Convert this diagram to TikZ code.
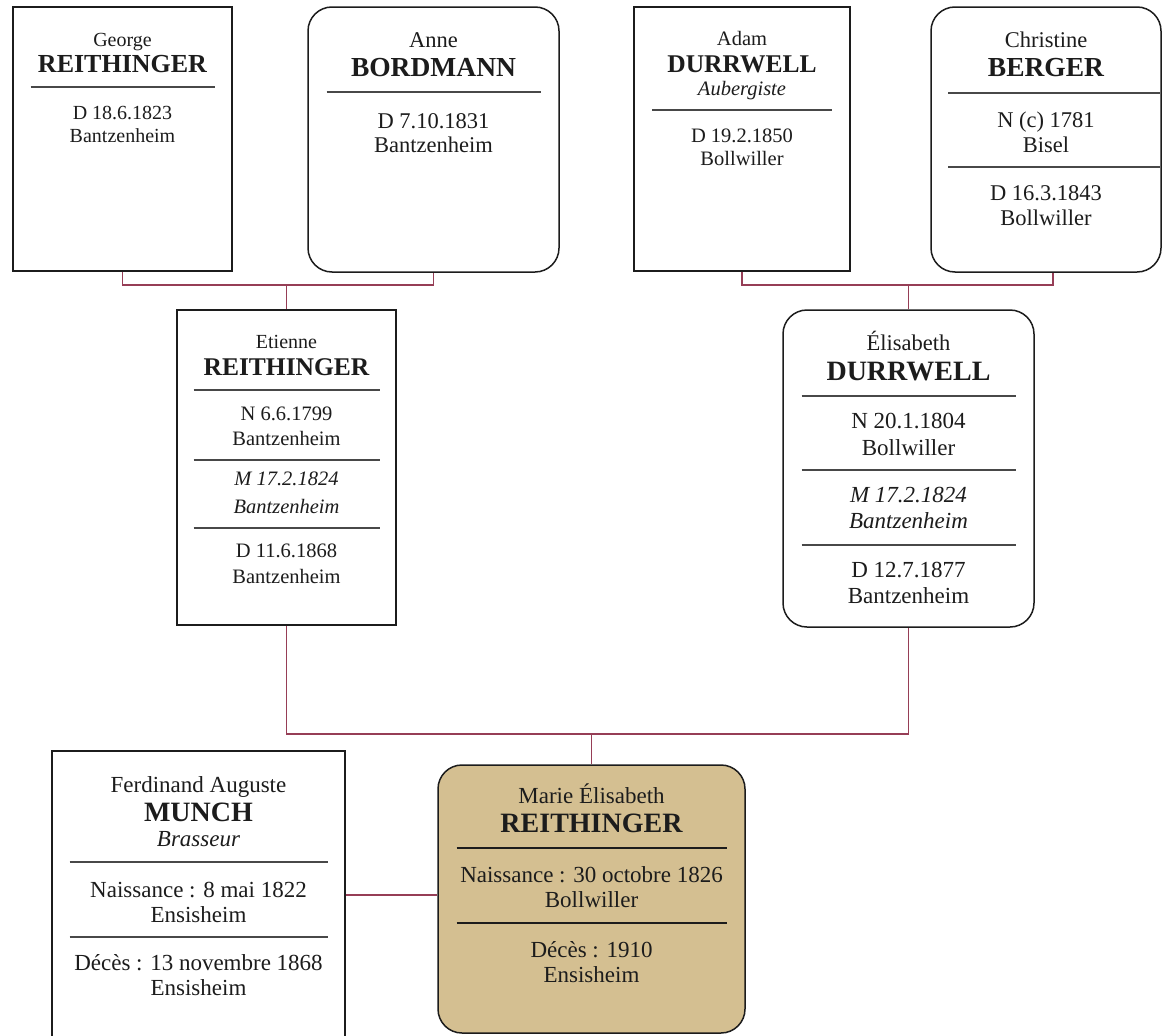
\documentclass[tikz,border=0pt]{standalone}
\usepackage{fontspec}
\setmainfont{Liberation Serif}
\definecolor{bordeaux}{RGB}{150,62,86}
\definecolor{sable}{RGB}{212,191,145}
\definecolor{trait}{RGB}{72,72,72}
\definecolor{encre}{RGB}{28,28,28}

\begin{document}
\begin{tikzpicture}[x=1pt,y=-1pt,
  boite/.style={draw=encre,line width=1.5pt,fill=white,inner sep=0pt},
  ronde/.style={boite,rounded corners=24pt},
  txt/.style={anchor=base,text=encre,inner sep=0pt,font=\fontsize{#1}{#1}\selectfont},
  txt/.default=20,
  nom/.style={anchor=base,text=encre,inner sep=0pt,font=\fontsize{#1}{#1}\selectfont\bfseries},
  nom/.default=25.5,
  sep/.style={draw=trait,line width=1.6pt},
  lien/.style={draw=bordeaux,line width=1.8pt}]

\useasboundingbox (0,0) rectangle (1162,1036);

\node[boite,minimum width=219pt,minimum height=264pt] (george) at (122.5,139) {};
\node[ronde,minimum width=251pt,minimum height=265pt] (anne) at (433.5,139.5) {};
\node[boite,minimum width=216pt,minimum height=264pt] (adam) at (742,139) {};
\node[ronde,minimum width=230pt,minimum height=265pt] (christine) at (1046,139.5) {};
\node[boite,minimum width=219pt,minimum height=315pt] (etienne) at (286.5,467.5) {};
\node[ronde,minimum width=251pt,minimum height=317pt] (elisabeth) at (908.5,468.5) {};
\node[boite,minimum width=293pt,minimum height=296pt] (munch) at (198.5,899) {};
\node[ronde,fill=sable,minimum width=307pt,minimum height=268pt] (marie) at (591.5,899) {};

\draw[lien] (george.south) -- ++(0,13) coordinate (barG) -| (anne.south);
\draw[lien] (etienne.north) -- (etienne.north |- barG);
\draw[lien] (adam.south) -- ++(0,13) coordinate (barD) -| ([xshift=7pt]christine.south);
\draw[lien] (elisabeth.north) -- (elisabeth.north |- barD);
\draw[lien] (etienne.south) -- ++(0,108) coordinate (barM) -| (elisabeth.south);
\draw[lien] (marie.north) -- (marie.north |- barM);
\draw[lien] ([yshift=4pt]marie.west) -- ([yshift=4pt]marie.west -| munch.east);

\begin{scope}[shift={(122.5,0)}]
\node[txt] (g1) at (0,46) {George};
\node[nom=26] (g2) at (0,72) {REITHINGER};
\draw[sep] (-92,87) -- (92,87);
\node[txt] (g3) at (0,119) {D 18.6.1823};
\node[txt] (g4) at (0,142) {Bantzenheim};
\end{scope}

\begin{scope}[shift={(433.5,0)}]
\node[txt=22.5] (a1) at (0,47) {Anne};
\node[nom=27.5] (a2) at (0,76) {BORDMANN};
\draw[sep] (-107,92) -- (107,92);
\node[txt=22.5] (a3) at (0,128) {D 7.10.1831};
\node[txt=22.5] (a4) at (0,152) {Bantzenheim};
\end{scope}

\begin{scope}[shift={(742,0)}]
\node[txt=20.5] (d1) at (0,45) {Adam};
\node[nom=25.5] (d2) at (0,72) {DURRWELL};
\node[txt=20.5] (d3) at (0,95) {\itshape Aubergiste};
\draw[sep] (-90,110) -- (90,110);
\node[txt=20.5] (d4) at (0,142) {D 19.2.1850};
\node[txt=20.5] (d5) at (0,165) {Bollwiller};
\end{scope}

\begin{scope}[shift={(1046,0)}]
\node[txt=22.5] (c1) at (0,47) {Christine};
\node[nom=27.5] (c2) at (0,76) {BERGER};
\draw[sep] (-98,93) -- (114,93);
\node[txt=22.5] (c3) at (0,127) {N (c) 1781};
\node[txt=22.5] (c4) at (0,152) {Bisel};
\draw[sep] (-98,167) -- (114,167);
\node[txt=22.5] (c5) at (0,200) {D 16.3.1843};
\node[txt=22.5] (c6) at (0,225) {Bollwiller};
\end{scope}

\begin{scope}[shift={(286.5,0)}]
\node[txt] (e1) at (0,348) {Etienne};
\node[nom=25.5] (e2) at (0,375) {REITHINGER};
\draw[sep] (-93,390) -- (93,390);
\node[txt=20.5] (e3) at (0,420) {N 6.6.1799};
\node[txt=20.5] (e4) at (0,445) {Bantzenheim};
\draw[sep] (-93,460) -- (93,460);
\node[txt=20.5] (e5) at (0,485) {\itshape M 17.2.1824};
\node[txt=20.5] (e6) at (0,513) {\itshape Bantzenheim};
\draw[sep] (-93,528) -- (93,528);
\node[txt=20.5] (e7) at (0,557) {D 11.6.1868};
\node[txt=20.5] (e8) at (0,583) {Bantzenheim};
\end{scope}

\begin{scope}[shift={(908.5,0)}]
\node[txt=22.5] (l1) at (0,350) {Élisabeth};
\node[nom=28] (l2) at (0,380) {DURRWELL};
\draw[sep] (-107,396) -- (107,396);
\node[txt=23] (l3) at (0,428) {N 20.1.1804};
\node[txt=23] (l4) at (0,455) {Bollwiller};
\draw[sep] (-107,470) -- (107,470);
\node[txt=23] (l5) at (0,502) {\itshape M 17.2.1824};
\node[txt=23] (l6) at (0,528) {\itshape Bantzenheim};
\draw[sep] (-107,545) -- (107,545);
\node[txt=23] (l7) at (0,577) {D 12.7.1877};
\node[txt=23] (l8) at (0,603) {Bantzenheim};
\end{scope}

\begin{scope}[shift={(198.5,0)}]
\node[txt=23] (m1) at (0,792) {Ferdinand Auguste};
\node[nom=28] (m2) at (0,821) {MUNCH};
\node[txt=23] (m3) at (0,846) {\itshape Brasseur};
\draw[sep] (-129,862) -- (129,862);
\node[txt=23] (m4) at (0,897) {Naissance : 8 mai 1822};
\node[txt=23] (m5) at (0,922) {Ensisheim};
\draw[sep] (-129,937) -- (129,937);
\node[txt=23] (m6) at (0,970) {Décès : 13 novembre 1868};
\node[txt=23] (m7) at (0,995) {Ensisheim};
\end{scope}

\begin{scope}[shift={(591.5,0)}]
\node[txt=23] (r1) at (0,803) {Marie Élisabeth};
\node[nom=28] (r2) at (0,832) {REITHINGER};
\draw[sep,draw=encre] (-135,848) -- (135,848);
\node[txt=23] (r3) at (0,882) {Naissance : 30 octobre 1826};
\node[txt=23] (r4) at (0,907) {Bollwiller};
\draw[sep,draw=encre] (-135,923) -- (135,923);
\node[txt=23] (r5) at (0,957) {Décès : 1910};
\node[txt=23] (r6) at (0,982) {Ensisheim};
\end{scope}

\end{tikzpicture}
\end{document}
